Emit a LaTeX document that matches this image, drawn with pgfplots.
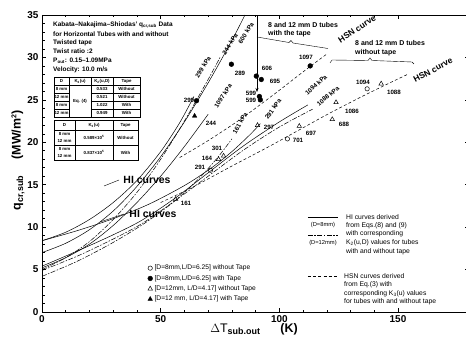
\documentclass[border=0pt]{standalone}
\usepackage{pgfplots}
\pgfplotsset{compat=1.18}
\usepackage{fontspec}
\setmainfont{Liberation Sans}
\usetikzlibrary{arrows.meta}
\newcommand\fs[1]{\fontsize{#1}{#1}\selectfont}
\begin{document}
\begin{tikzpicture}
\useasboundingbox (-42bp,-26bp) rectangle (424bp,312bp);
\begin{axis}[
  at={(0,0)}, anchor=south west,
  scale only axis, width=427.2bp, height=297bp,
  xmin=0, xmax=180, ymin=0, ymax=35,
  xtick={0,50,100,150}, ytick={0,5,...,35},
  minor x tick num=4, minor y tick num=4,
  tick align=inside, major tick length=4bp, minor tick length=2.5bp,
  axis line style={line width=0.9pt},
  every tick/.style={black, line width=0.6pt},
  ticklabel style={font=\fs{10}\bfseries},
  /pgf/number format/assume math mode=true,
  legend image code/.code={\draw[mark repeat=2,mark phase=2,#1] plot coordinates {(0cm,0cm) (0.13cm,0cm) (0.26cm,0cm)};},
  legend style={at={(axis cs:44.5,5.8)}, anchor=north west, draw=none, fill=none,
    font=\fs{6.7}, row sep=0pt, inner sep=0pt, legend cell align=left},
  hi8/.style={black, line width=0.5pt, smooth, forget plot},
  hi12/.style={black, line width=0.5pt, smooth, forget plot, dash pattern=on 5pt off 1.5pt on 1.5pt off 1.5pt},
  hsn/.style={black, line width=0.5pt, smooth, forget plot, dash pattern=on 3pt off 2.2pt},
]
% ---- HI curves, steep bundle ----
\addplot[hi8] coordinates {(0,8.4) (10,9.4) (20,10.9) (30,12.9) (40,15.5) (50,18.9) (58,22.3) (64,25.4)};
\addplot[hi12] coordinates {(0,5.0) (10,6.4) (20,8.3) (30,10.9) (40,14.1) (50,18.0) (60,22.5) (70,27.4) (75,30.0)};
\addplot[hi8] coordinates {(0,7.0) (10,8.1) (20,9.7) (30,11.9) (40,14.8) (50,18.3) (60,22.4) (70,27.0) (80,32.0) (85.5,35)};
\addplot[hi8] coordinates {(0,5.2) (10,6.4) (20,8.0) (30,10.2) (40,12.9) (50,16.0) (60,19.5) (70,23.3)};
% ---- HI curves, lower bundle ----
\addplot[hi8] coordinates {(0,8.4) (15,9.6) (30,11.0) (45,12.7) (60,14.9) (71,16.9) (80,18.9) (88,21.0) (92,22.2)};
\addplot[hi12] coordinates {(0,4.2) (15,6.0) (30,8.2) (44,10.6) (56,13.1) (66,15.7) (74,18.2) (80,20.4)};
\addplot[hi8] coordinates {(0,5.4) (15,7.2) (30,9.1) (42,10.8) (56,13.4) (70,16.4) (85,19.6) (100,22.4) (112,24.4)};
\addplot[hi12] coordinates {(0,4.9) (15,6.6) (30,8.6) (42,10.4) (56,13.1) (70,16.0) (85,19.1) (100,21.8) (114,23.9)};
% ---- HSN curves ----
\addplot[hsn] coordinates {(58,18.2) (70,20.2) (83,22.6) (98,25.7) (110,28.3) (120,30.4)};
\addplot[hsn] coordinates {(50,12.9) (63.4,14.7) (80,17.2) (95,19.4) (108,21.4) (121,23.4) (137,25.7) (154,28.0)};
% ---- data ----
\addplot[only marks, mark=o, mark size=2.2pt, black, line width=0.5pt] coordinates {(71,16.7) (103.4,20.4) (137,26.3)};
\addlegendentry{[D=8mm,L/D=6.25]  without  Tape}
\addplot[only marks, mark=*, mark size=2.4pt, black] coordinates {(65.1,24.9) (79.8,29.2) (90.3,27.8) (92.4,27.4) (91.6,25.4) (92.0,25.0) (113,29.0)};
\addlegendentry{[D=8mm,L/D=6.25]  with  Tape}
\addplot[only marks, mark=triangle, mark size=2.6pt, black, line width=0.5pt] coordinates {(56.3,13.3) (74.4,18.0) (76.5,18.4) (90.8,22.0) (108.4,21.9) (122.3,22.7) (123.9,24.7) (142.9,26.9)};
\addlegendentry{[D=12mm,  L/D=4.17]  without  Tape}
\addplot[only marks, mark=triangle*, mark size=2.6pt, black] coordinates {(64.3,23.1)};
\addlegendentry{[D=12 mm,  L/D=4.17]  with  Tape}
\end{axis}
% ---- annotations in image pixel coordinates ----
\begin{scope}[x=1bp, y=-1bp, shift={(-42bp,312bp)}]
% axis labels
\node[rotate=90] at (18,160) {\fs{12.5}\bfseries q\textsubscript{\fs{9}cr,sub}\hspace{1.3em}(MW/m\textsuperscript{\fs{7}2})};
\node at (254,329) {\fs{12.5}$\Delta$T\textsubscript{\fs{9}\bfseries sub.out}\hspace{1.6em}\bfseries (K)};
% title block
\begin{scope}[every node/.style={anchor=west, inner sep=0pt, font=\fs{6.5}\bfseries}]
\node at (53,25) {Kabata--Nakajima--Shiodas'  q\textsubscript{\fs{4.5}cr,sub}  Data};
\node at (53,34) {for  Horizontal  Tubes  with  and  without};
\node at (53,43) {Twisted tape};
\node at (53,51.5) {Twist ratio :2};
\node at (53,61) {P\textsubscript{\fs{4.5}out}:  0.15--1.09MPa};
\node at (53,70) {Velocity:  10.0  m/s};
\end{scope}
% table 1
\draw[line width=0.5pt] (54,77) rectangle (140,117);
\draw[line width=0.4pt] (69,77)--(69,117) (91,77)--(91,117) (113,77)--(113,117) (54,85)--(140,85)
  (54,93)--(69,93) (54,101)--(69,101) (54,109)--(69,109) (91,93)--(140,93) (91,101)--(140,101) (91,109)--(140,109);
\begin{scope}[every node/.style={inner sep=0pt, font=\fs{4.4}\bfseries}]
\node at (61.5,81) {D}; \node at (80,81) {K\textsubscript{2}(u)}; \node at (102,81) {K\textsubscript{2}(u,D)}; \node at (126.5,81) {Tape};
\node at (61.5,89) {8 mm}; \node at (61.5,97) {12 mm}; \node at (61.5,105) {8 mm}; \node at (61.5,113) {12 mm};
\node at (80,101) {Eq. (4)};
\node at (102,89) {0.533}; \node at (102,97) {0.521}; \node at (102,105) {1.022}; \node at (102,113) {0.949};
\node at (126.5,89) {Without}; \node at (126.5,97) {Without}; \node at (126.5,105) {With}; \node at (126.5,113) {With};
% table 2
\node at (64.5,125) {D}; \node at (94,125) {K\textsubscript{3}(u)}; \node at (125.5,125) {Tape};
\node at (64.5,134) {8 mm}; \node at (64.5,141) {12 mm}; \node at (94,137.5) {0.589×10\textsuperscript{5}}; \node at (125.5,137.5) {Without};
\node at (64.5,149) {8 mm}; \node at (64.5,156) {12 mm}; \node at (94,152.5) {0.837×10\textsuperscript{5}}; \node at (125.5,152.5) {With};
\end{scope}
\draw[line width=0.5pt] (54,120) rectangle (138,160);
\draw[line width=0.4pt] (75,120)--(75,160) (113,120)--(113,160) (54,130)--(138,130) (54,145)--(138,145);
% point labels
\begin{scope}[every node/.style={inner sep=0pt, font=\fs{6.2}\bfseries}]
\node at (189,100) {299}; \node at (240,73) {289}; \node at (267,68) {606}; \node at (275,81) {695};
\node at (251,93) {599}; \node at (251,100.5) {599}; \node at (306,57) {1097}; \node at (211,123) {244};
\node at (217,148) {301}; \node at (207,158) {164}; \node at (200,167) {291}; \node at (186,203) {161};
\node at (269,127) {297}; \node at (311,133) {697}; \node at (298,140) {701}; \node at (344,124) {688};
\node at (352,111) {1086}; \node at (363,82) {1094}; \node at (394,92) {1088};
\end{scope}
% pressure labels along curves
\begin{scope}[every node/.style={inner sep=0pt, font=\fs{6.3}\bfseries}]
\node[rotate=57] at (203,67) {299 kPa}; \node[rotate=57] at (230,44) {244 kPa};
\node[rotate=57] at (246,33) {600 kPa}; \node[rotate=57] at (223,96) {1097 kPa};
\node[rotate=60] at (240,123) {161 kPa}; \node[rotate=55] at (273,109) {291 kPa};
\node[rotate=42] at (316,85) {1094 kPa}; \node[rotate=40] at (328,96) {1088 kPa};
\end{scope}
% HSN labels
\node[rotate=33, inner sep=0pt, font=\fs{8.5}\bfseries] at (357,29) {HSN curve};
\node[rotate=28, inner sep=0pt, font=\fs{8.5}\bfseries] at (433,70) {HSN curve};
% HI labels
\node[inner sep=0pt, font=\fs{10.5}\bfseries] at (147,180) {HI curves};
\node[inner sep=0pt, font=\fs{10.5}\bfseries] at (153,214) {HI curves};
\draw[line width=0.4pt] (124,214)--(100,222);
\draw[line width=0.4pt] (119,180)--(104,186);
% tube annotations
\begin{scope}[every node/.style={anchor=west, inner sep=0pt, font=\fs{7}\bfseries}]
\node at (268,25) {8 and 12 mm D tubes};
\node at (268,33.5) {with the tape};
\node at (355,43) {8 and 12 mm D tubes};
\node at (355,52.5) {without tape};
\end{scope}
\draw[line width=0.5pt, -{Stealth[length=4pt,width=3pt]}] (257,16)--(257,92);
\draw[line width=0.4pt] (257,37)--(289,42.5)--(291,40.5)--(293,43)--(328,48.5);
\draw[line width=0.4pt] (330,63)--(332,60)--(368,60.5)--(370,58)--(372,60.5)--(412,62)--(414,64);
% right-hand legend
\draw[line width=0.6pt] (308,217)--(338,217);
\draw[line width=0.6pt, dash pattern=on 5pt off 1.5pt on 1.5pt off 1.5pt] (308,235)--(338,235);
\draw[line width=0.6pt, dash pattern=on 3pt off 2.2pt] (308,276)--(338,276);
\begin{scope}[every node/.style={inner sep=0pt, font=\fs{5.8}}]
\node at (323,225) {(D=8mm)}; \node at (323,243) {(D=12mm)};
\end{scope}
\begin{scope}[every node/.style={anchor=west, inner sep=0pt, font=\fs{6.8}}]
\node at (346,217) {HI  curves  derived};
\node at (346,225.5) {from  Eqs.(8)  and  (9)};
\node at (346,234) {with  corresponding};
\node at (346,242.5) {K\textsubscript{2}(u,D)  values  for  tubes};
\node at (346,251.5) {with  and  without  tape};
\node at (344,276.5) {HSN  curves  derived};
\node at (344,285) {from  Eq.(3)  with};
\node at (344,293.5) {corresponding  K\textsubscript{3}(u)  values};
\node at (344,302) {for  tubes  with  and  without  tape};
\end{scope}
\end{scope}
\end{tikzpicture}
\end{document}
